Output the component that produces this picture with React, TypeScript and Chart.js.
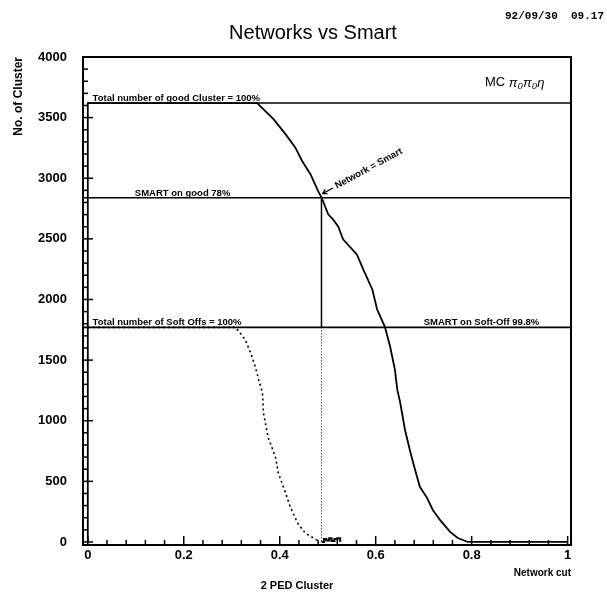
import React, { useEffect, useRef } from "react";
import { Chart, registerables } from "chart.js";
Chart.register(...registerables);

// Solid histogram: good clusters surviving the network cut
const goodX = [0, 0, 0.353, 0.387, 0.412, 0.432, 0.447, 0.464, 0.48, 0.487, 0.501, 0.511, 0.522, 0.532, 0.561, 0.574, 0.593, 0.603, 0.619, 0.63, 0.64, 0.645, 0.651, 0.661, 0.672, 0.682, 0.692, 0.707, 0.719, 0.734, 0.755, 0.771, 0.792, 1.0];
const goodY = [0, 3620, 3620, 3488, 3364, 3256, 3140, 3033, 2893, 2843, 2702, 2661, 2600, 2496, 2370, 2248, 2083, 1917, 1777, 1612, 1422, 1256, 1150, 926, 744, 595, 455, 364, 264, 182, 83, 33, 0, 0];

// Dotted histogram: soft-off clusters surviving the network cut
const softX = [0, 0.308, 0.328, 0.339, 0.349, 0.356, 0.364, 0.366, 0.376, 0.391, 0.397, 0.412, 0.422, 0.437, 0.453, 0.47, 0.484];
const softY = [1770, 1770, 1669, 1562, 1446, 1339, 1231, 1066, 860, 702, 570, 405, 289, 157, 74, 33, 0];

// Small tail near the cut
const tailX = [0.487, 0.492, 0.497, 0.503, 0.508, 0.514, 0.52, 0.526];
const tailY = [0, 25, 12, 30, 8, 25, 30, 0];

// Reference levels
const goodTotal = 3620;
const smartGood = 2840;
const softTotal = 1770;
const cutValue = 0.487;

const xTicks = [0, 0.2, 0.4, 0.6, 0.8, 1];
const xTickLabels = ["0", "0.2", "0.4", "0.6", "0.8", "1"];
const yTicks = [0, 500, 1000, 1500, 2000, 2500, 3000, 3500, 4000];
const yTickLabels = ["0", "500", "1000", "1500", "2000", "2500", "3000", "3500", "4000"];

const titleText = "Networks vs Smart";
const dateText = "92/09/30  09.17";
const xTitle = "Network cut";
const xSubTitle = "2 PED Cluster";
const yTitle = "No. of Cluster";
const labelGood = "Total number of good Cluster = 100%";
const labelSmartGood = "SMART on good 78%";
const labelSoft = "Total number of Soft Offs = 100%";
const labelSmartSoft = "SMART on Soft-Off 99.8%";
const labelArrow = "Network = Smart";

const X_MIN = -0.01;
const X_MAX = 1.007;
const Y_MIN = -25;
const Y_MAX = 4000;

const pts = (xs: number[], ys: number[]) => xs.map((x, i) => ({ x, y: ys[i] }));

const decor = {
  id: "decor",
  afterDraw(chart: any) {
    const ctx = chart.ctx as CanvasRenderingContext2D;
    const xs = chart.scales.x;
    const ys = chart.scales.y;
    const a = chart.chartArea;
    ctx.save();
    ctx.strokeStyle = "#000";
    ctx.fillStyle = "#000";
    // frame
    ctx.lineWidth = 2;
    ctx.strokeRect(a.left, a.top, a.right - a.left, a.bottom - a.top);
    // inner ticks
    ctx.lineWidth = 1.5;
    for (let i = 0; i <= 25; i++) {
      const v = i * 0.04;
      const px = xs.getPixelForValue(v);
      const len = i % 5 === 0 ? 9 : 5;
      ctx.beginPath();
      ctx.moveTo(px, a.bottom);
      ctx.lineTo(px, a.bottom - len);
      ctx.stroke();
    }
    for (let i = 0; i <= 40; i++) {
      const v = i * 100;
      const py = ys.getPixelForValue(v);
      const len = i % 5 === 0 ? 10 : 5;
      ctx.beginPath();
      ctx.moveTo(a.left, py);
      ctx.lineTo(a.left + len, py);
      ctx.stroke();
    }
    // texts
    ctx.textBaseline = "middle";
    ctx.textAlign = "center";
    ctx.font = '20px "Liberation Sans"';
    ctx.fillText(titleText, 313, 33);
    ctx.textAlign = "right";
    ctx.font = 'bold 11px "Liberation Mono"';
    ctx.fillText(dateText, 604, 16);
    ctx.textAlign = "center";
    ctx.font = 'bold 11px "Liberation Sans"';
    ctx.fillText(xSubTitle, 297, 586);
    // MC label
    ctx.textAlign = "left";
    ctx.font = '13px "Liberation Sans"';
    ctx.fillText("MC", 485, 82);
    const mcW = ctx.measureText("MC ").width;
    ctx.font = 'italic 13px "Liberation Sans"';
    ctx.fillText("π₀π₀η", 485 + mcW, 83);
    // level labels
    ctx.font = 'bold 9.5px "Liberation Sans"';
    ctx.textBaseline = "alphabetic";
    ctx.fillText(labelGood, xs.getPixelForValue(0.01), ys.getPixelForValue(goodTotal) - 2);
    ctx.fillText(labelSmartGood, xs.getPixelForValue(0.098), ys.getPixelForValue(smartGood) - 2);
    ctx.fillText(labelSoft, xs.getPixelForValue(0.01), ys.getPixelForValue(softTotal) - 2);
    ctx.fillText(labelSmartSoft, xs.getPixelForValue(0.7), ys.getPixelForValue(softTotal) - 2);
    // arrow
    const tx = xs.getPixelForValue(cutValue) + 1;
    const ty = ys.getPixelForValue(smartGood) - 4;
    const ang = -28.5 * Math.PI / 180;
    ctx.lineWidth = 1.2;
    ctx.beginPath();
    ctx.moveTo(tx, ty);
    ctx.lineTo(tx + 12 * Math.cos(ang), ty + 12 * Math.sin(ang));
    ctx.stroke();
    ctx.beginPath();
    ctx.moveTo(tx, ty);
    ctx.lineTo(tx + 5 * Math.cos(ang - 0.5), ty + 5 * Math.sin(ang - 0.5));
    ctx.moveTo(tx, ty);
    ctx.lineTo(tx + 5 * Math.cos(ang + 0.5), ty + 5 * Math.sin(ang + 0.5));
    ctx.stroke();
    ctx.translate(tx + 15 * Math.cos(ang), ty + 15 * Math.sin(ang));
    ctx.rotate(ang);
    ctx.font = 'bold 9.5px "Liberation Sans"';
    ctx.textBaseline = "middle";
    ctx.fillText(labelArrow, 0, 0);
    ctx.restore();
  },
};

export default function App() {
  const ref = useRef<HTMLCanvasElement | null>(null);
  useEffect(() => {
    if (!ref.current) return;
    const base = { pointRadius: 0, borderColor: "#000", fill: false, tension: 0 };
    const chart = new Chart(ref.current, {
      type: "line",
      data: {
        datasets: [
          { ...base, label: "good", data: pts(goodX, goodY), borderWidth: 1.8 },
          { ...base, label: "soft", data: pts(softX, softY), borderWidth: 1.6, borderDash: [2, 3] },
          { ...base, label: "tail", data: pts(tailX, tailY), borderWidth: 2, stepped: true },
          { ...base, label: "goodTotal", data: [{ x: 0, y: goodTotal }, { x: X_MAX, y: goodTotal }], borderWidth: 1.5 },
          { ...base, label: "smartGood", data: [{ x: X_MIN, y: smartGood }, { x: X_MAX, y: smartGood }], borderWidth: 1.5 },
          { ...base, label: "softTotal", data: [{ x: X_MIN, y: softTotal }, { x: X_MAX, y: softTotal }], borderWidth: 1.8 },
          { ...base, label: "cutUpper", data: [{ x: cutValue, y: smartGood }, { x: cutValue, y: softTotal }], borderWidth: 1.5 },
          { ...base, label: "cutLower", data: [{ x: cutValue, y: softTotal }, { x: cutValue, y: 0 }], borderWidth: 1, borderDash: [1, 2] },
        ],
      },
      options: {
        animation: false,
        responsive: false,
        devicePixelRatio: 1,
        parsing: false as any,
        layout: { padding: { top: 57, right: 36, left: 0, bottom: 0 } },
        plugins: { legend: { display: false }, tooltip: { enabled: false }, title: { display: false } },
        scales: {
          x: {
            type: "linear",
            min: X_MIN,
            max: X_MAX,
            grid: { display: false, drawTicks: false },
            border: { display: false },
            afterBuildTicks: (s: any) => { s.ticks = xTicks.map((v) => ({ value: v })); },
            afterFit: (s: any) => { s.height = 49; },
            ticks: {
              padding: 3,
              color: "#000",
              font: { family: "Liberation Sans", size: 13, weight: "bold" },
              callback: (v: any) => { const i = xTicks.findIndex((t) => Math.abs(t - Number(v)) < 1e-6); return i >= 0 ? xTickLabels[i] : ""; },
            },
            title: { display: true, text: xTitle, align: "end", color: "#000", font: { family: "Liberation Sans", size: 10, weight: "bold" }, padding: { top: 0, bottom: 15 } },
          },
          y: {
            type: "linear",
            min: Y_MIN,
            max: Y_MAX,
            grid: { display: false, drawTicks: false },
            border: { display: false },
            afterBuildTicks: (s: any) => { s.ticks = yTicks.map((v) => ({ value: v })); },
            afterFit: (s: any) => { s.width = 83; },
            ticks: {
              padding: 16,
              color: "#000",
              font: { family: "Liberation Sans", size: 13, weight: "bold" },
              callback: (v: any) => { const i = yTicks.indexOf(Number(v)); return i >= 0 ? yTickLabels[i] : ""; },
            },
            title: { display: true, text: yTitle, align: "end", color: "#000", font: { family: "Liberation Sans", size: 12, weight: "bold" }, padding: { top: 11, bottom: 0 } },
          },
        },
      },
      plugins: [decor],
    } as any);
    return () => chart.destroy();
  }, []);
  return (
    <div style={{ position: "absolute", left: 0, top: 0, width: 607, height: 594, background: "#fff" }}>
      <canvas ref={ref} width={607} height={594} style={{ display: "block" }} />
    </div>
  );
}
